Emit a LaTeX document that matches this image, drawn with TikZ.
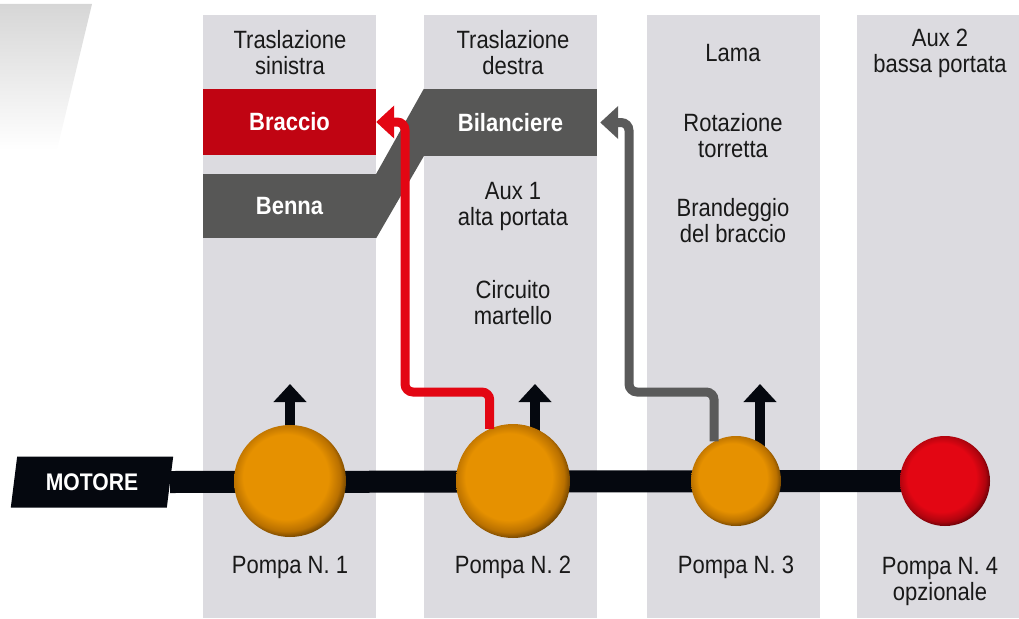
\documentclass[tikz,border=0pt]{standalone}
\usepackage{fontspec}
\setmainfont{Liberation Sans}[FakeStretch=0.88]
\usetikzlibrary{arrows.meta,shapes.geometric,backgrounds}

\definecolor{colbg}{RGB}{220,219,224}
\definecolor{boxred}{RGB}{192,4,18}
\definecolor{boxgray}{RGB}{87,87,86}
\definecolor{pipered}{RGB}{227,6,19}
\definecolor{pipegray}{RGB}{90,90,90}
\definecolor{shaftblack}{RGB}{5,8,15}
\definecolor{txt}{RGB}{25,25,25}
\definecolor{orA}{RGB}{230,145,0}
\definecolor{orB}{RGB}{185,112,0}
\definecolor{orC}{RGB}{55,32,0}
\definecolor{rdA}{RGB}{227,6,19}
\definecolor{rdB}{RGB}{175,4,14}
\definecolor{rdC}{RGB}{45,0,3}

\pgfdeclareradialshading{pumpor}{\pgfpoint{-3bp}{3bp}}{color(0bp)=(orA); color(19bp)=(orA); color(24bp)=(orB); color(29bp)=(orC); color(50bp)=(orC)}
\pgfdeclareradialshading{pumprd}{\pgfpoint{-3bp}{3bp}}{color(0bp)=(rdA); color(19bp)=(rdA); color(24bp)=(rdB); color(29bp)=(rdC); color(50bp)=(rdC)}

\tikzset{
	lbl/.style={align=center,inner sep=0pt,text=txt,font=\fontsize{25}{26}\selectfont},
	box/.style={minimum width=173pt,minimum height=66pt,inner sep=0pt,text=white,font=\fontsize{25}{26}\selectfont\bfseries},
	pump/.style={circle,inner sep=0pt,shading=pumpor},
	shaft/.style={line width=22pt,draw=shaftblack},
	riser/.style={line width=10pt,draw=shaftblack,->},
	pipe/.style={line width=9pt,rounded corners=8pt,->},
}

\begin{document}
\begin{tikzpicture}[x=1pt,y=-1pt,>={Triangle[width=32pt,length=18pt]}]

\useasboundingbox (0,0) rectangle (1019,618);

\begin{scope}[on background layer]
	\shade[top color=black!16,bottom color=white] (0,4) -- (92,4) -- (57,150) -- (0,150) -- cycle;
	\foreach \x/\w in {203/173,424/173,647/173,857/162} {
		\fill[colbg] (\x,15) rectangle ++(\w,603);
	}
\end{scope}

% column headers
\node[lbl] (tsx) at (290,53) {Traslazione\\sinistra};
\node[lbl] (tdx) at (513,53) {Traslazione\\destra};
\node[lbl] (lama) at (733,53) {Lama};
\node[lbl] (aux2) at (940,53) {Aux 2\\bassa portata};

% functions
\node[box,fill=boxred] (braccio) at (289.5,122) {Braccio};
\node[box,fill=boxgray,minimum height=67pt] (bilanciere) at (510.5,122.5) {Bilanciere};
\node[box,fill=boxgray,minimum height=64pt] (benna) at (289.5,206) {Benna};
\fill[boxgray] (benna.north east) -- (bilanciere.north west) -- (bilanciere.south west) -- (benna.south east) -- cycle;

\node[lbl] (aux1) at (513,206) {Aux 1\\alta portata};
\node[lbl] (martello) at (513,303) {Circuito\\martello};
\node[lbl] (torretta) at (733,136) {Rotazione\\torretta};
\node[lbl] (brandeggio) at (733,221) {Brandeggio\\del braccio};

% motor and pumps
\node[trapezium,trapezium left angle=77,trapezium right angle=103,trapezium stretches=true,
	minimum width=164pt,minimum height=51pt,inner sep=0pt,fill=shaftblack,text=white,
	font=\fontsize{24}{26}\selectfont\bfseries] (motore) at (92,482) {MOTORE};

\foreach \i/\x/\r in {1/290/56,2/513/57,3/736/45} {
	\node[pump,minimum size=2*\r pt] (p\i) at (\x,481) {};
}
\node[pump,shading=pumprd,minimum size=90pt] (p4) at (945,481) {};

\node[lbl] (n1) at (290,567) {Pompa N. 1};
\node[lbl] (n2) at (513,567) {Pompa N. 2};
\node[lbl] (n3) at (736,567) {Pompa N. 3};
\node[lbl] (n4) at (940,581) {Pompa N. 4\\opzionale};

\coordinate (a1) at (290,384);
\coordinate (a2) at (535,384);
\coordinate (a3) at (760,384);
\coordinate (rb) at (405,392);
\coordinate (gb) at (629,392);

\begin{scope}[on background layer]
	\draw[shaft] (motore.east) -- (p4.center);
	\draw[riser] (p1.center) -- (a1);
	\draw[riser] (p2.center -| a2) -- (a2);
	\draw[riser] (p3.center -| a3) -- (a3);
\end{scope}

% hydraulic lines
\draw[pipe,draw=pipered] (p2.114) |- (rb) |- (braccio.east);
\draw[pipe,draw=pipegray,shorten >=3pt] (p3.119) |- (gb) |- (bilanciere.east);

\end{tikzpicture}
\end{document}
